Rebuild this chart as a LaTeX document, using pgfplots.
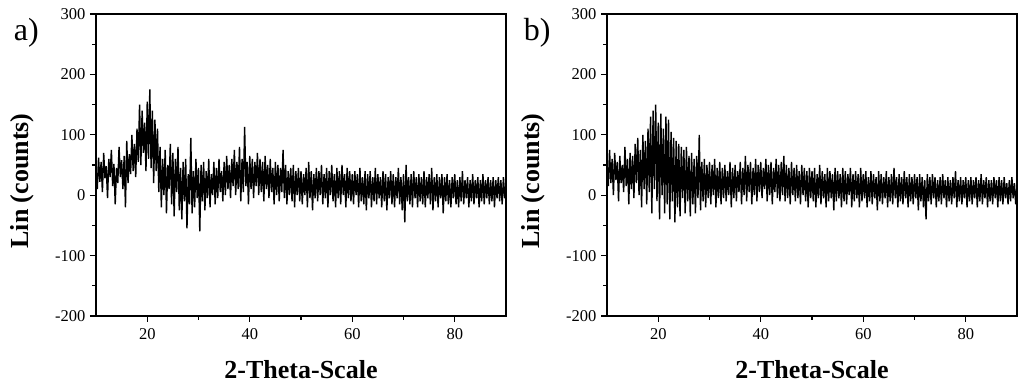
\documentclass[border=0pt]{standalone}
\usepackage{pgfplots}
\pgfplotsset{compat=1.18}
\usepackage{fontspec}
\setmainfont{Liberation Serif}
\begin{document}
\begin{tikzpicture}
\useasboundingbox (0pt,0pt) rectangle (1024pt,390pt);
\pgfplotsset{xrdax/.style={
  anchor=south west, scale only axis, width=410pt, height=302pt,
  xmin=10, xmax=90, ymin=-200, ymax=300,
  xtick={20,40,60,80}, minor xtick={30,50,70},
  ytick={-200,-100,0,100,200,300}, minor ytick={-150,-50,50,150,250},
  tick align=outside, tick pos=left,
  major tick length=6pt, minor tick length=4pt,
  axis line style={line width=1.3pt},
  every tick/.style={line width=1.1pt, black},
  tick label style={font=\fontsize{16.5}{18}\selectfont},
  /pgf/number format/assume math mode=true,
  xticklabel style={yshift=-3pt},
  yticklabel style={xshift=-1pt},
  label style={font=\fontsize{26}{28}\selectfont\bfseries},
  xlabel={2-Theta-Scale}, ylabel={Lin (counts)},
  xlabel style={at={(axis description cs:0.5,-0.179)}, anchor=center},
  ylabel style={at={(axis description cs:-0.18,0.447)}, anchor=center},
  clip mode=individual,
}}
\begin{axis}[xrdax, at={(96pt,74pt)}]
\addplot[black, line width=1.4pt, line join=bevel] coordinates {
(10,40)(10.25,10)(10.5,62)(10.75,22)(11,55)(11.25,5)(11.5,70)(11.75,28)(12,48)(12.25,-5)
(12.5,60)(12.75,30)(13,75)(13.25,15)(13.5,52)(13.75,-15)(14,45)(14.25,20)(14.5,80)(14.75,30)
(15,58)(15.25,10)(15.5,65)(15.75,-20)(16,90)(16.25,20)(16.5,68)(16.75,35)(17,100)(17.25,40)
(17.5,85)(17.75,30)(18,110)(18.25,55)(18.5,150)(18.75,50)(19,140)(19.25,70)(19.5,120)(19.75,40)
(20,155)(20.25,60)(20.5,175)(20.75,45)(21,140)(21.25,20)(21.5,125)(21.75,40)(22,110)(22.25,5)
(22.5,80)(22.75,-20)(23,60)(23.25,0)(23.5,75)(23.75,-30)(24,50)(24.25,10)(24.5,85)(24.75,-15)
(25,70)(25.25,-35)(25.5,60)(25.75,5)(26,80)(26.25,-25)(26.5,45)(26.75,-40)(27,55)(27.25,-10)
(27.5,60)(27.75,-55)(28,35)(28.25,-15)(28.5,95)(28.75,-30)(29,40)(29.25,-20)(29.5,60)(29.75,-5)
(30,45)(30.25,-60)(30.5,50)(30.75,-10)(31,55)(31.25,-25)(31.5,40)(31.75,-5)(32,60)(32.25,-20)
(32.5,35)(32.75,0)(33,55)(33.25,-15)(33.5,45)(33.75,-5)(34,60)(34.25,5)(34.5,40)(34.75,-10)
(35,55)(35.25,0)(35.5,65)(35.75,10)(36,50)(36.25,-5)(36.5,60)(36.75,15)(37,75)(37.25,0)
(37.5,55)(37.75,10)(38,80)(38.25,-10)(38.5,60)(38.75,5)(39,113)(39.25,15)(39.5,55)(39.75,-15)
(40,65)(40.25,10)(40.5,60)(40.75,-5)(41,55)(41.25,15)(41.5,70)(41.75,0)(42,60)(42.25,5)
(42.5,55)(42.75,-10)(43,65)(43.25,10)(43.5,50)(43.75,-5)(44,60)(44.25,5)(44.5,45)(44.75,-15)
(45,55)(45.25,0)(45.5,50)(45.75,-10)(46,45)(46.25,5)(46.5,75)(46.75,-5)(47,50)(47.25,-15)
(47.5,40)(47.75,0)(48,45)(48.25,-10)(48.5,50)(48.75,-20)(49,40)(49.25,0)(49.5,45)(49.75,-10)
(50,40)(50.25,-15)(50.5,35)(50.75,0)(51,45)(51.25,-20)(51.5,55)(51.75,-5)(52,40)(52.25,-25)
(52.5,35)(52.75,-5)(53,45)(53.25,-10)(53.5,40)(53.75,0)(54,50)(54.25,-15)(54.5,35)(54.75,-5)
(55,45)(55.25,-20)(55.5,40)(55.75,0)(56,50)(56.25,-10)(56.5,35)(56.75,-20)(57,45)(57.25,-5)
(57.5,40)(57.75,-15)(58,50)(58.25,0)(58.5,35)(58.75,-20)(59,45)(59.25,-5)(59.5,40)(59.75,-10)
(60,35)(60.25,-15)(60.5,40)(60.75,0)(61,35)(61.25,-20)(61.5,45)(61.75,-10)(62,30)(62.25,-15)
(62.5,40)(62.75,-25)(63,35)(63.25,-5)(63.5,40)(63.75,-20)(64,30)(64.25,-10)(64.5,45)(64.75,-15)
(65,35)(65.25,-5)(65.5,30)(65.75,-20)(66,40)(66.25,-10)(66.5,35)(66.75,-25)(67,30)(67.25,-5)
(67.5,40)(67.75,-15)(68,35)(68.25,-20)(68.5,30)(68.75,-5)(69,45)(69.25,-15)(69.5,30)(69.75,-25)
(70,35)(70.25,-45)(70.5,50)(70.75,-10)(71,30)(71.25,-15)(71.5,35)(71.75,-20)(72,40)(72.25,-5)
(72.5,30)(72.75,-20)(73,35)(73.25,-10)(73.5,30)(73.75,-15)(74,40)(74.25,-20)(74.5,30)(74.75,-5)
(75,35)(75.25,-15)(75.5,45)(75.75,-25)(76,30)(76.25,-10)(76.5,35)(76.75,-20)(77,30)(77.25,-5)
(77.5,35)(77.75,-30)(78,30)(78.25,-10)(78.5,35)(78.75,-15)(79,25)(79.25,-20)(79.5,30)(79.75,-5)
(80,35)(80.25,-15)(80.5,25)(80.75,-20)(81,30)(81.25,-10)(81.5,40)(81.75,-15)(82,25)(82.25,-5)
(82.5,30)(82.75,-20)(83,25)(83.25,-10)(83.5,35)(83.75,-15)(84,25)(84.25,-5)(84.5,30)(84.75,-20)
(85,25)(85.25,-10)(85.5,35)(85.75,-15)(86,25)(86.25,-5)(86.5,30)(86.75,-15)(87,25)(87.25,-10)
(87.5,30)(87.75,-20)(88,25)(88.25,-5)(88.5,30)(88.75,-10)(89,25)(89.25,-15)(89.5,30)(89.75,-5)(90,20)
};
\node[font=\fontsize{32}{34}\selectfont] at (axis description cs:-0.17,0.937) {a)};
\end{axis}
\begin{axis}[xrdax, at={(607pt,74pt)}]
\addplot[black, line width=1.4pt, line join=bevel] coordinates {
(10,55)(10.25,15)(10.5,75)(10.75,20)(11,60)(11.25,0)(11.5,70)(11.75,25)(12,55)(12.25,-10)
(12.5,65)(12.75,20)(13,50)(13.25,5)(13.5,80)(13.75,15)(14,60)(14.25,-15)(14.5,70)(14.75,10)
(15,65)(15.25,-5)(15.5,85)(15.75,20)(16,95)(16.25,0)(16.5,75)(16.75,-20)(17,100)(17.25,10)
(17.5,90)(17.75,-15)(18,110)(18.25,5)(18.5,130)(18.75,-30)(19,140)(19.25,10)(19.5,150)(19.75,-10)
(20,120)(20.25,-40)(20.5,135)(20.75,0)(21,110)(21.25,-30)(21.5,130)(21.75,-15)(22,125)(22.25,-40)
(22.5,105)(22.75,-10)(23,95)(23.25,-45)(23.5,90)(23.75,-20)(24,85)(24.25,-35)(24.5,80)(24.75,-5)
(25,75)(25.25,-30)(25.5,80)(25.75,-10)(26,65)(26.25,-35)(26.5,70)(26.75,-15)(27,60)(27.25,-30)
(27.5,65)(27.75,-5)(28,100)(28.25,-25)(28.5,55)(28.75,-10)(29,60)(29.25,-20)(29.5,50)(29.75,-5)
(30,55)(30.25,-15)(30.5,50)(30.75,0)(31,60)(31.25,-20)(31.5,45)(31.75,-5)(32,55)(32.25,-15)
(32.5,45)(32.75,-5)(33,50)(33.25,-10)(33.5,40)(33.75,0)(34,55)(34.25,-20)(34.5,45)(34.75,-5)
(35,50)(35.25,-10)(35.5,40)(35.75,5)(36,55)(36.25,-15)(36.5,45)(36.75,0)(37,65)(37.25,-10)
(37.5,50)(37.75,5)(38,55)(38.25,-15)(38.5,45)(38.75,0)(39,60)(39.25,-10)(39.5,50)(39.75,5)
(40,55)(40.25,-5)(40.5,45)(40.75,10)(41,60)(41.25,-10)(41.5,50)(41.75,0)(42,55)(42.25,-15)
(42.5,45)(42.75,5)(43,60)(43.25,-5)(43.5,50)(43.75,-10)(44,55)(44.25,0)(44.5,65)(44.75,-10)
(45,50)(45.25,-5)(45.5,45)(45.75,-15)(46,55)(46.25,0)(46.5,45)(46.75,-10)(47,50)(47.25,-5)
(47.5,40)(47.75,-15)(48,50)(48.25,0)(48.5,45)(48.75,-10)(49,40)(49.25,-20)(49.5,45)(49.75,-5)
(50,40)(50.25,-10)(50.5,45)(50.75,-20)(51,35)(51.25,-5)(51.5,50)(51.75,-15)(52,40)(52.25,-5)
(52.5,35)(52.75,-20)(53,45)(53.25,-10)(53.5,40)(53.75,-5)(54,35)(54.25,-25)(54.5,45)(54.75,-10)
(55,40)(55.25,-5)(55.5,35)(55.75,-20)(56,45)(56.25,-10)(56.5,40)(56.75,-15)(57,35)(57.25,0)
(57.5,45)(57.75,-20)(58,35)(58.25,-10)(58.5,40)(58.75,-5)(59,35)(59.25,-20)(59.5,45)(59.75,-10)
(60,35)(60.25,-5)(60.5,40)(60.75,-20)(61,30)(61.25,-10)(61.5,40)(61.75,-15)(62,35)(62.25,-5)
(62.5,30)(62.75,-25)(63,40)(63.25,-10)(63.5,35)(63.75,-15)(64,30)(64.25,-5)(64.5,40)(64.75,-20)
(65,30)(65.25,-10)(65.5,35)(65.75,-15)(66,45)(66.25,-5)(66.5,30)(66.75,-20)(67,35)(67.25,-10)
(67.5,30)(67.75,-15)(68,40)(68.25,-5)(68.5,30)(68.75,-20)(69,35)(69.25,-10)(69.5,30)(69.75,-15)
(70,35)(70.25,-5)(70.5,30)(70.75,-25)(71,35)(71.25,-10)(71.5,30)(71.75,-20)(72,25)(72.25,-40)
(72.5,35)(72.75,-10)(73,30)(73.25,-15)(73.5,35)(73.75,-5)(74,30)(74.25,-20)(74.5,25)(74.75,-10)
(75,30)(75.25,-15)(75.5,35)(75.75,-5)(76,25)(76.25,-20)(76.5,30)(76.75,-10)(77,25)(77.25,-15)
(77.5,30)(77.75,-5)(78,40)(78.25,-20)(78.5,25)(78.75,-10)(79,30)(79.25,-15)(79.5,25)(79.75,-5)
(80,30)(80.25,-20)(80.5,25)(80.75,-10)(81,30)(81.25,-15)(81.5,25)(81.75,-5)(82,30)(82.25,-20)
(82.5,25)(82.75,-10)(83,35)(83.25,-15)(83.5,25)(83.75,-5)(84,30)(84.25,-20)(84.5,25)(84.75,-10)
(85,25)(85.25,-15)(85.5,30)(85.75,-5)(86,25)(86.25,-20)(86.5,30)(86.75,-10)(87,25)(87.25,-15)
(87.5,30)(87.75,-5)(88,20)(88.25,-15)(88.5,25)(88.75,-10)(89,30)(89.25,-5)(89.5,20)(89.75,-15)(90,15)
};
\node[font=\fontsize{32}{34}\selectfont] at (axis description cs:-0.17,0.937) {b)};
\end{axis}
\end{tikzpicture}
\end{document}
